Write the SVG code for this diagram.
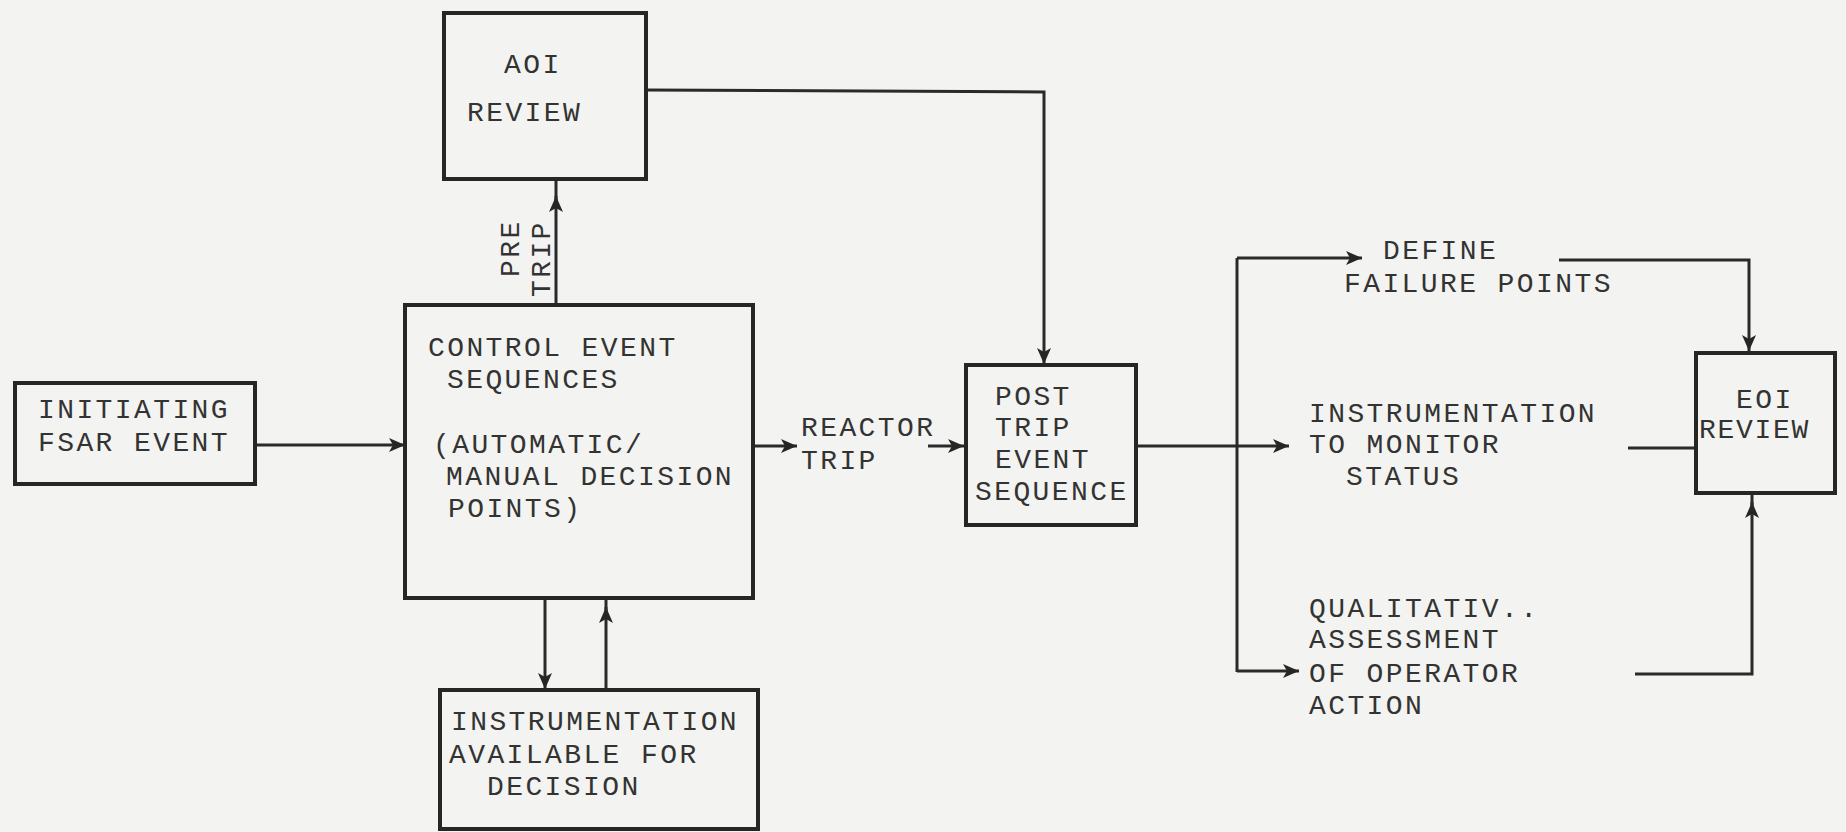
<svg xmlns="http://www.w3.org/2000/svg" width="1846" height="832" viewBox="0 0 1846 832">
<defs>
<marker id="ah" markerUnits="userSpaceOnUse" markerWidth="18" markerHeight="14" refX="16" refY="7" orient="auto">
<path d="M0,0 L16,7 L0,14 L4,7 z" fill="#262626"/>
</marker>
<style>
.box{fill:none;stroke:#262626;stroke-width:4}
.ln{fill:none;stroke:#2a2a2a;stroke-width:3}
.arr{fill:none;stroke:#2a2a2a;stroke-width:3;marker-end:url(#ah)}
text{font-family:"Liberation Mono","DejaVu Sans Mono",monospace;font-size:28px;letter-spacing:2.4px;fill:#333}
</style>
</defs>
<rect width="1846" height="832" fill="#f3f3f1"/>
<g id="connectors">
<path class="arr" d="M255,445 L405,445"/>
<path class="arr" d="M556,305 L556,196"/>
<path class="ln" d="M556,200 L556,179"/>
<path class="arr" d="M646,90 L1044,92 L1044,364"/>
<path class="arr" d="M545,598 L545,689"/>
<path class="arr" d="M606,690 L606,607"/>
<path class="ln" d="M606,612 L606,598"/>
<path class="arr" d="M753,446 L797,446"/>
<path class="arr" d="M928,446 L964,446"/>
<path class="arr" d="M1136,446 L1289,446"/>
<path class="ln" d="M1237,258 L1237,672"/>
<path class="arr" d="M1237,258 L1362,258"/>
<path class="arr" d="M1237,671 L1299,671"/>
<path class="arr" d="M1559,260 L1749,260 L1749,351"/>
<path class="ln" d="M1628,448 L1696,448"/>
<path class="arr" d="M1635,674 L1752,674 L1752,502"/>
<path class="ln" d="M1752,506 L1752,493"/>
</g>
<g id="initiating">
<rect class="box" x="15" y="383" width="240" height="101"/>
<text x="38" y="418">INITIATING</text>
<text x="38" y="451">FSAR EVENT</text>
</g>
<g id="aoi-review">
<rect class="box" x="444" y="13" width="202" height="166"/>
<text x="504" y="73">AOI</text>
<text x="467" y="121">REVIEW</text>
</g>
<g id="pre-trip-label">
<text transform="translate(519,277) rotate(-90)">PRE</text>
<text transform="translate(550,297) rotate(-90)">TRIP</text>
</g>
<g id="control-event">
<rect class="box" x="405" y="305" width="348" height="293"/>
<text x="428" y="356">CONTROL EVENT</text>
<text x="447" y="388">SEQUENCES</text>
<text x="433" y="453">(AUTOMATIC/</text>
<text x="446" y="485">MANUAL DECISION</text>
<text x="448" y="517">POINTS)</text>
</g>
<g id="instrumentation-available">
<rect class="box" x="440" y="690" width="318" height="139"/>
<text x="451" y="730">INSTRUMENTATION</text>
<text x="449" y="763">AVAILABLE FOR</text>
<text x="487" y="795">DECISION</text>
</g>
<g id="reactor-trip-label">
<text x="801" y="436">REACTOR</text>
<text x="801" y="469">TRIP</text>
</g>
<g id="post-trip">
<rect class="box" x="966" y="365" width="170" height="160"/>
<text x="995" y="405">POST</text>
<text x="995" y="436">TRIP</text>
<text x="995" y="468">EVENT</text>
<text x="975" y="500">SEQUENCE</text>
</g>
<g id="define-failure">
<text x="1383" y="259">DEFINE</text>
<text x="1344" y="292">FAILURE POINTS</text>
</g>
<g id="instrumentation-monitor">
<text x="1309" y="422">INSTRUMENTATION</text>
<text x="1309" y="453">TO MONITOR</text>
<text x="1346" y="485">STATUS</text>
</g>
<g id="qualitative">
<text x="1309" y="617">QUALITATIV..</text>
<text x="1309" y="648">ASSESSMENT</text>
<text x="1309" y="682">OF OPERATOR</text>
<text x="1309" y="714">ACTION</text>
</g>
<g id="eoi-review">
<rect class="box" x="1696" y="353" width="139" height="140"/>
<text x="1736" y="408">EOI</text>
<text x="1699" y="438" style="letter-spacing:1.7px">REVIEW</text>
</g>
</svg>
